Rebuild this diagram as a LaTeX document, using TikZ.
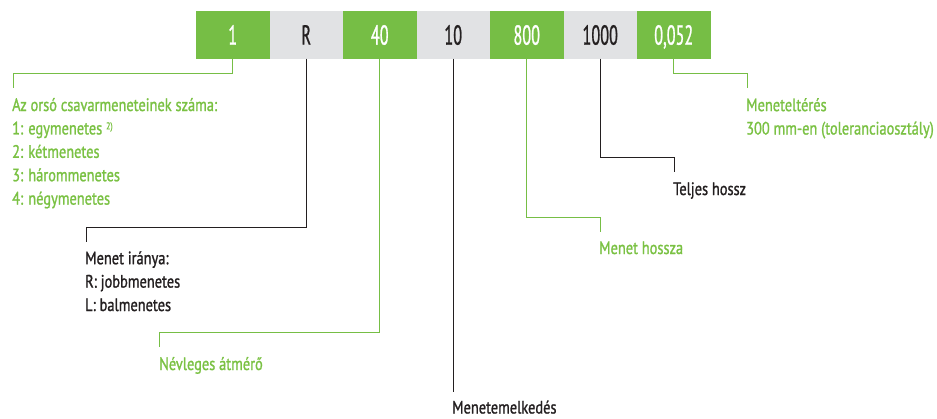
\documentclass[tikz,border=0pt]{standalone}
\usepackage{fontspec}
\setmainfont{PT Sans}[FakeStretch=0.8,FakeBold=1.2]
\newfontfamily\boxfont{PT Sans}[FakeStretch=0.59,FakeBold=0.8]
\usetikzlibrary{positioning}
\definecolor{mgreen}{HTML}{76BE45}
\definecolor{tgreen}{HTML}{7AC143}
\definecolor{mgrey}{HTML}{E1E2E4}
\definecolor{mdark}{HTML}{231F20}

\begin{document}
\begin{tikzpicture}[x=1pt,y=-1pt,
  gbox/.style={fill=mgreen,text=white,minimum width=73.5pt,minimum height=47.7pt,
    inner sep=0pt,outer sep=0pt,text depth=0pt,font=\boxfont\fontsize{27.5}{27.5}\selectfont},
  ebox/.style={gbox,fill=mgrey,text=mdark},
  gline/.style={draw=mgreen,line width=1pt},
  kline/.style={draw=mdark,line width=1pt},
  glbl/.style={anchor=base west,inner sep=0pt,align=left,text=tgreen,
    font=\fontsize{18}{23.4}\selectfont},
  klbl/.style={glbl,text=mdark}]
  \useasboundingbox (0,0) rectangle (937,418);
  % the code: 1 R 40 10 800 1000 0,052
  \node[gbox] (cnt) at (232.75,34.85) {1};
  \node[ebox,right=0pt of cnt] (dir) {R};
  \node[gbox,right=0pt of dir] (diam) {40};
  \node[ebox,right=0pt of diam] (lead) {10};
  \node[gbox,right=0pt of lead] (thr) {800};
  \node[ebox,right=0pt of thr] (tot) {1000};
  \node[gbox,right=0pt of tot] (tol) {0,052};
  % free ends of the leader lines
  \coordinate (ecnt) at (13,87.5);
  \coordinate (edir) at (86,242);
  \coordinate (ediam) at (159,347);
  \coordinate (elead) at (453.25,392);
  \coordinate (ethr) at (600,232);
  \coordinate (etot) at (674,172);
  \coordinate (etol) at (747.5,87.5);
  \draw[gline] (cnt.south) |- ([yshift=14.5pt]ecnt) -- (ecnt);
  \draw[kline] (dir.south) |- ([yshift=14.5pt]edir) -- (edir);
  \draw[gline] (diam.south) |- ([yshift=14.5pt]ediam) -- (ediam);
  \draw[kline] (lead.south) -- (elead);
  \draw[gline] (thr.south) |- ([yshift=14.5pt]ethr) -- (ethr);
  \draw[kline] (tot.south) |- ([yshift=14.5pt]etot) -- (etot);
  \draw[gline] (tol.south) |- ([yshift=14.5pt]etol) -- (etol);
  % labels (base = last line)
  \node[glbl] (lcnt) at (12,204.6) {Az orsó csavarmeneteinek száma:\\
    1: egymenetes \raisebox{5pt}{\fontsize{10}{10}\selectfont 2)}\\
    2: kétmenetes\\3: hárommenetes\\4: négymenetes};
  \node[klbl] (ldir) at (85,311) {Menet iránya:\\R: jobbmenetes\\L: balmenetes};
  \node[glbl] (ldiam) at (159,370) {Névleges átmérő};
  \node[klbl] (llead) at (452,413.5) {Menetemelkedés};
  \node[glbl] (lthr) at (599,254) {Menet hossza};
  \node[klbl] (ltot) at (673,195) {Teljes hossz};
  \node[glbl] (ltol) at (746,134.5) {Meneteltérés\\300 mm-en (toleranciaosztály)};
\end{tikzpicture}
\end{document}
